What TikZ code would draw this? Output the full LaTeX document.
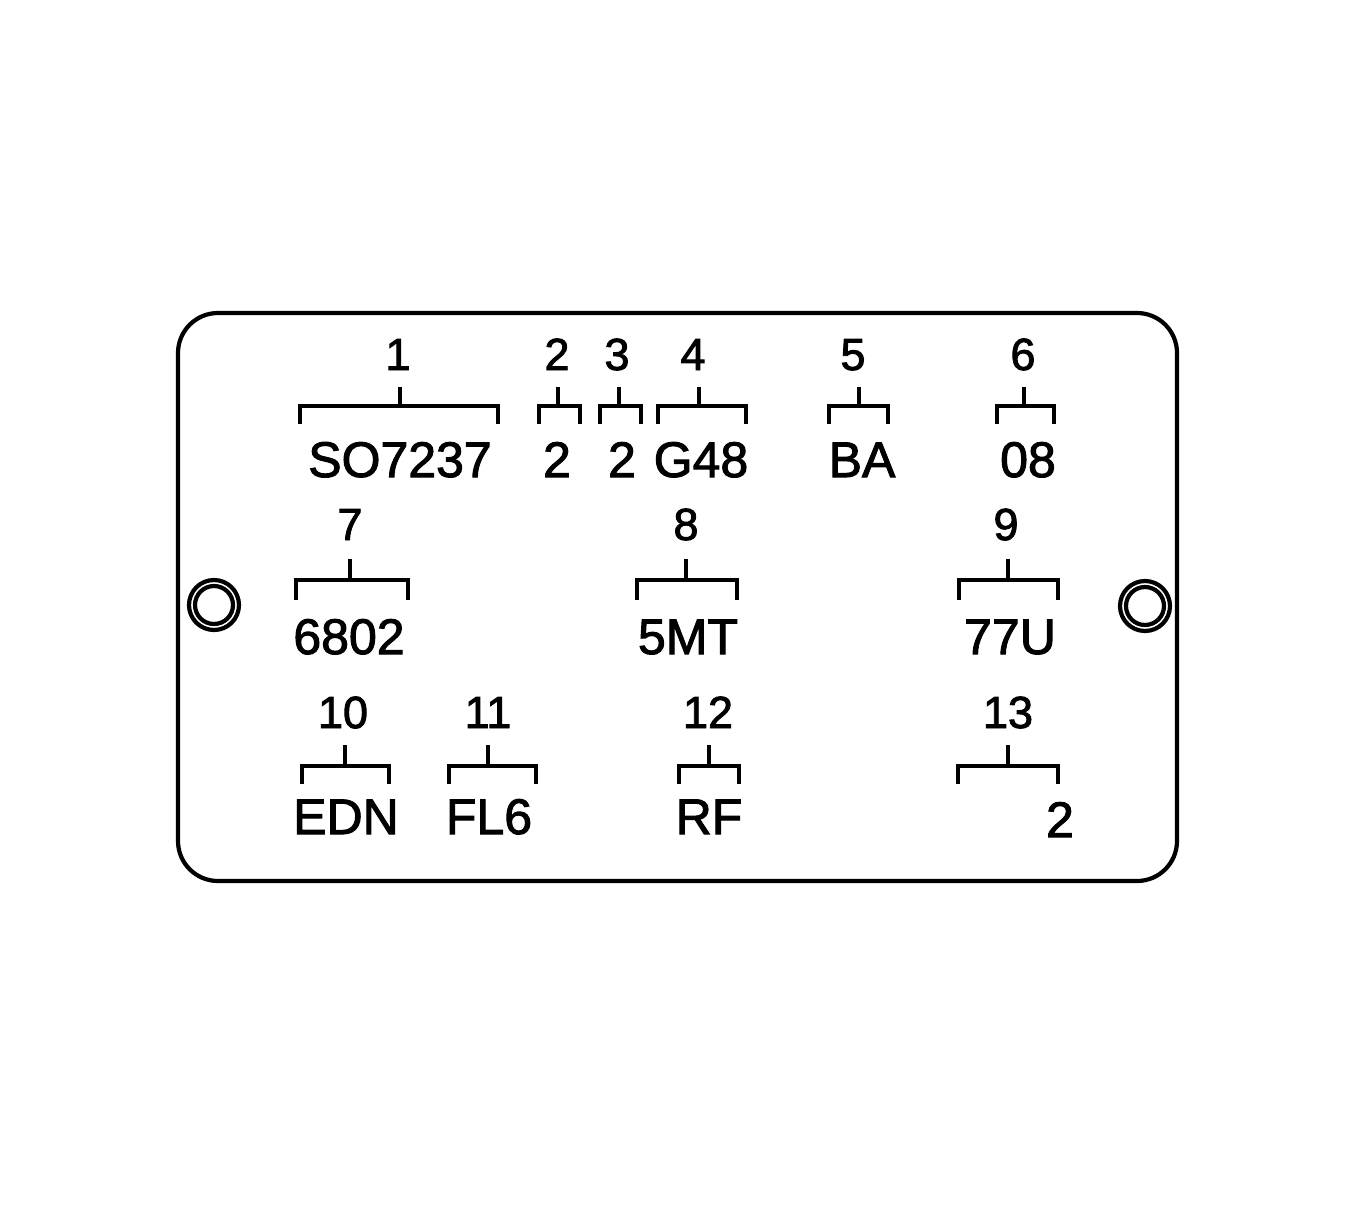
\documentclass[tikz,border=0pt]{standalone}
\usepackage{fontspec}
\setmainfont{Liberation Sans}
\newfontfamily\heavyfont{Liberation Sans}[FakeBold=2]
\begin{document}
\begin{tikzpicture}[x=1pt,y=-1pt,
  plate/.style={line width=4.2pt},
  ring/.style={line width=4.2pt},
  brk/.style={line width=4.4pt},
  numtxt/.style={anchor=base,inner sep=0pt,font=\heavyfont\fontsize{45}{50}\selectfont},
  lbltxt/.style={anchor=base,inner sep=0pt,font=\heavyfont\fontsize{50}{56}\selectfont}]
\useasboundingbox (0,0) rectangle (1355,1221);
\draw[plate,rounded corners=40pt] (178,313) rectangle (1177,881);
\draw[ring] (214,605) circle (25) (214,605) circle (19);
\draw[ring] (1145,606) circle (25) (1145,606) circle (19);
% brackets: left, right, tick, ticktop, horizontal, legbottom
\foreach \l/\r/\t/\a/\h/\b in {
  300/498/400/387/406/424, 539/580/558/387/406/424, 600/641/619/387/406/424,
  658/746/699/387/406/424, 829/888/859/387/406/424, 997/1054/1024/387/406/424,
  296/408/350/559/580/600, 637/737/686/559/580/600, 959/1058/1008/559/580/600,
  302/389/345/745/766/784, 449/536/488/745/766/784, 679/739/709/745/766/784,
  958/1058/1008/745/766/784}
  {\draw[brk] (\l,\b) -- (\l,\h) -- (\r,\h) -- (\r,\b) (\t,\h) -- (\t,\a);}
% numbers
\node[numtxt] (n1) at (398,370) {1};
\node[numtxt] (n2) at (557,370) {2};
\node[numtxt] (n3) at (617,370) {3};
\node[numtxt] (n4) at (693,370) {4};
\node[numtxt] (n5) at (853,370) {5};
\node[numtxt] (n6) at (1023,370) {6};
\node[numtxt] (n7) at (350,540) {7};
\node[numtxt] (n8) at (686,540) {8};
\node[numtxt] (n9) at (1006,540) {9};
\node[numtxt] (n10) at (343,728) {10};
\node[numtxt] (n11) at (488,728) {11};
\node[numtxt] (n12) at (708,728) {12};
\node[numtxt] (n13) at (1008,728) {13};
% labels
\node[lbltxt] (l1) at (400,477) {SO7237};
\node[lbltxt] (l2) at (557,477) {2};
\node[lbltxt] (l3) at (622,477) {2};
\node[lbltxt] (l4) at (701,477) {G48};
\node[lbltxt] (l5) at (862,477) {BA};
\node[lbltxt] (l6) at (1028,477) {08};
\node[lbltxt] (l7) at (349,654) {6802};
\node[lbltxt] (l8) at (688,654) {5MT};
\node[lbltxt] (l9) at (1010,654) {77U};
\node[lbltxt] (l10) at (346,834) {EDN};
\node[lbltxt] (l11) at (489,834) {FL6};
\node[lbltxt] (l12) at (709,834) {RF};
\node[lbltxt] (l13) at (1060,837) {2};
\end{tikzpicture}
\end{document}
